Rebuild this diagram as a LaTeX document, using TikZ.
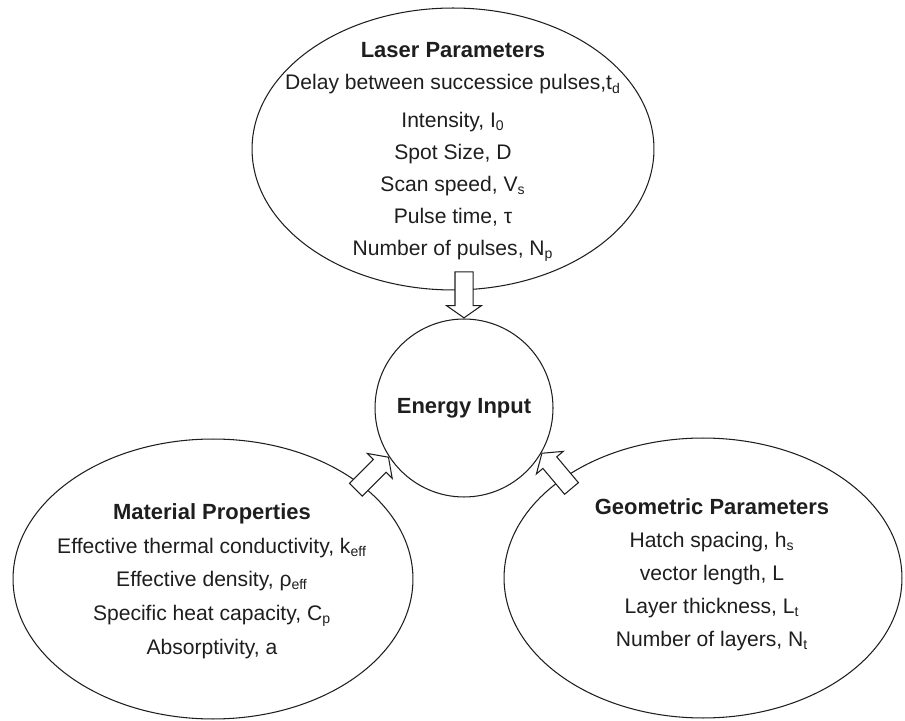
\documentclass[tikz,border=0pt]{standalone}
\usepackage{fontspec}
\setmainfont{Liberation Sans}
\usepackage{tikz}
\usetikzlibrary{shapes.geometric, shapes.arrows}
\definecolor{inkgrey}{HTML}{1E1E1E}

\begin{document}
\begin{tikzpicture}[
  x=0.02cm, y=0.02cm,
  group/.style={ellipse, draw=inkgrey, line width=0.6pt, inner sep=0pt, minimum width=8cm, minimum height=5.6cm},
  hub/.style={circle, draw=inkgrey, line width=0.6pt, minimum size=3.56cm, inner sep=0pt, text=inkgrey, font=\fontsize{12.5}{15}\selectfont\bfseries},
  lines/.style={align=center, inner sep=0pt, text=inkgrey, font=\fontsize{12}{18.2}\selectfont},
  fat/.style={single arrow, draw=inkgrey, fill=white, line width=0.6pt, inner xsep=0pt, inner ysep=0.17cm, minimum height=0.92cm, single arrow head extend=0.17cm, single arrow tip angle=110}
]
\useasboundingbox (0,0) rectangle (905,720);

% the three parameter groups
\node[group, minimum width=8.04cm, minimum height=5.64cm] (laser) at (453,571) {};
\node[group] (material) at (213,141) {};
\node[group, minimum width=7.96cm] (geometric) at (703,142) {};
\node[hub] (energy) at (464,312) {Energy Input};

\node[lines] (laserTxt) at (453,568) {{\fontsize{12.5}{15}\selectfont\bfseries Laser Parameters}\\
  Delay between successice pulses,t\textsubscript{d}\\[3pt]
  Intensity, I\textsubscript{0}\\
  Spot Size, D\\
  Scan speed, V\textsubscript{s}\\
  Pulse time, τ\\
  Number of pulses, N\textsubscript{p}};
\node[lines, font=\fontsize{12}{19.2}\selectfont] (materialTxt) at (212,139) {{\fontsize{12.5}{15}\selectfont\bfseries Material Properties}\\
  Effective thermal conductivity, k\textsubscript{eff}\\
  Effective density, ρ\textsubscript{eff}\\
  Specific heat capacity, C\textsubscript{p}\\
  Absorptivity, a};
\node[lines, font=\fontsize{12}{18.8}\selectfont] (geometricTxt) at (712,145) {{\fontsize{12.5}{15}\selectfont\bfseries Geometric Parameters}\\
  Hatch spacing, h\textsubscript{s}\\
  vector length, L\\
  Layer thickness, L\textsubscript{t}\\
  Number of layers, N\textsubscript{t}};

% block arrows into the hub
\node[fat, rotate=-90, anchor=tip] (fromLaser) at (energy.north) {};
\node[fat, rotate=45, anchor=tip] (fromMaterial) at (energy.213) {};
\node[fat, rotate=130, anchor=tip] (fromGeometric) at (energy.330) {};
\end{tikzpicture}
\end{document}
